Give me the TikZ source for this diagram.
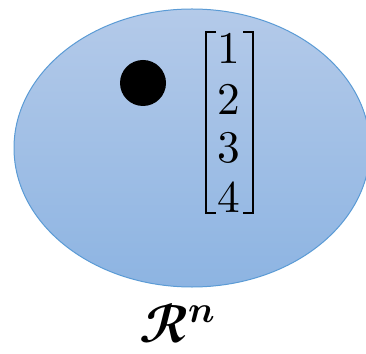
\documentclass[tikz,border=0pt]{standalone}
\usepackage{unicode-math}
\usetikzlibrary{positioning}
\definecolor{spacetop}{RGB}{180,202,233}
\definecolor{spacebot}{RGB}{141,180,226}
\definecolor{spaceedge}{RGB}{91,155,213}
\tikzset{digit/.style={font=\fontsize{34}{40}\selectfont,inner sep=0pt}}

\begin{document}
\begin{tikzpicture}[x=0.75pt,y=0.75pt]
\useasboundingbox (0,0) rectangle (366,353);
% the space
\draw[spaceedge,line width=0.75pt,top color=spacetop,bottom color=spacebot] (192,205) ellipse [x radius=178,y radius=139];
% a point in it
\fill (143,270) circle [radius=23];
% the vector
\foreach \d/\y in {1/305,2/254,3/205,4/156}
  \node[digit] (d\d) at (229,\y) {$\d$};
\draw[line width=1.5pt] (216,321) -- (206,321) -- (206,140) -- (216,140);
\draw[line width=1.5pt] (243,321) -- (253,321) -- (253,140) -- (243,140);
\node[font=\fontsize{40}{46}\selectfont] (space) at (178,30) {$\mathbfscr{R}^{\mathbfit{n}}$};
\end{tikzpicture}
\end{document}
